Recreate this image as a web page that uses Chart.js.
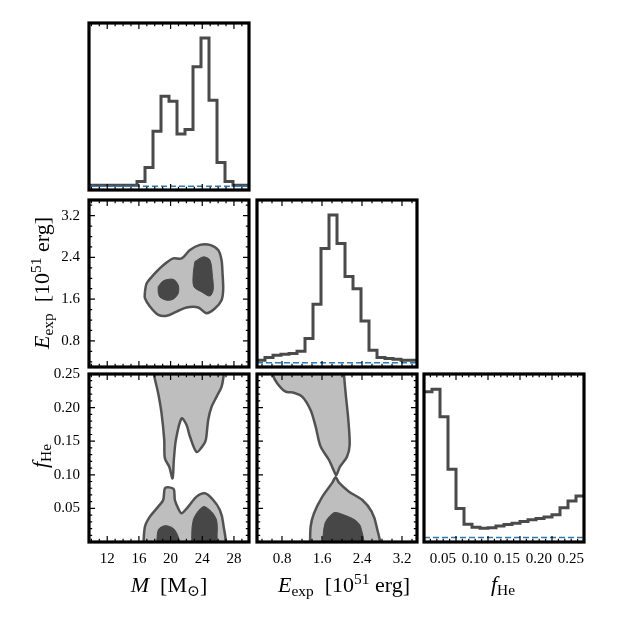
<!DOCTYPE html>
<html><head><meta charset="utf-8">
<script src="https://cdn.jsdelivr.net/npm/chart.js@4.4.1/dist/chart.umd.min.js"></script>
<style>
html,body{margin:0;padding:0;background:#fff;}
#wrap{position:relative;width:623px;height:623px;overflow:hidden;background:#fff;}
canvas{position:absolute;left:0;top:0;}
.t{position:absolute;font-family:'Liberation Serif','DejaVu Serif',serif;font-size:22px;color:#000;white-space:nowrap;transform:translate(-50%,-50%);line-height:1;}
.t sub{font-size:0.7em;vertical-align:-0.28em;line-height:0;}
.t sup{font-size:0.7em;vertical-align:0.5em;line-height:0;}
.t.r{transform:translate(-50%,-50%) rotate(-90deg);}
</style></head><body>
<div id="wrap">
<canvas id="c0" width="623" height="623"></canvas>
<canvas id="c1" width="623" height="623"></canvas>
<canvas id="c2" width="623" height="623"></canvas>
<canvas id="c3" width="623" height="623"></canvas>
<canvas id="c4" width="623" height="623"></canvas>
<canvas id="c5" width="623" height="623"></canvas>
<div class="t" style="left:169px;top:585px"><i>M</i>&nbsp; [M<sub>⊙</sub>]</div>
<div class="t" style="left:344px;top:585px"><i>E</i><sub>exp</sub>&nbsp; [10<sup>51</sup> erg]</div>
<div class="t" style="left:503px;top:584px"><i>f</i><sub>He</sub></div>
<div class="t r" style="left:42px;top:283px"><i>E</i><sub>exp</sub>&nbsp; [10<sup>51</sup> erg]</div>
<div class="t r" style="left:40px;top:456px"><i>f</i><sub>He</sub></div>
</div>
<script>
// ---- axis ranges and tick labels ----
const M_RANGE = [9.7, 29.9];
const E_RANGE = [0.3, 3.5];
const F_RANGE = [0, 0.25];
const mTicks = [12, 16, 20, 24, 28];
const eTicks = [0.8, 1.6, 2.4, 3.2];
const fTicks = [0.05, 0.10, 0.15, 0.20, 0.25];

// ---- 1D marginal histograms (20 bins each, arbitrary units) ----
const mHist = [14,14,14,14,14,14,25,67,175,279,264,167,180,367,452,267,82,25,14,14];
const eHist = [20,28,35,38,40,47,85,187,353,453,368,270,233,137,50,28,25,23,20,20];
const fHist = [440,447,367,213,98,52,43,40,42,47,51,55,60,65,69,73,80,100,120,135];
const mPrior = 11, ePrior = 13, fPrior = 13;
const mHistMax = 497, eHistMax = 498, fHistMax = 492;

// ---- 2D credible-region contours [x, y] ----
const meOuter = [[16.76,1.74],[16.97,1.90],[17.81,2.06],[19.07,2.25],[20.33,2.38],[21.39,2.38],[22.44,2.54],[23.70,2.64],[24.96,2.64],[26.01,2.54],[26.43,2.35],[26.56,2.09],[26.64,1.78],[26.43,1.58],[25.59,1.42],[24.54,1.33],[23.49,1.44],[22.02,1.44],[20.76,1.36],[19.50,1.28],[18.44,1.30],[17.39,1.46],[16.76,1.62]];
const meInnerA = [[18.44,1.84],[19.07,1.95],[20.33,1.98],[20.96,1.87],[20.96,1.71],[20.33,1.60],[19.50,1.58],[18.65,1.64],[18.44,1.74]];
const meInnerB = [[23.07,2.32],[24.11,2.41],[24.96,2.35],[25.29,2.03],[25.38,1.78],[24.96,1.66],[23.91,1.74],[22.94,1.84],[22.86,2.09]];

const mfUpper = [[17.85,0.27],[17.90,0.25],[18.44,0.221],[18.86,0.1915],[19.20,0.152],[19.28,0.1245],[19.83,0.112],[20.25,0.0947],[20.41,0.122],[20.67,0.152],[21.39,0.184],[22.02,0.174],[22.44,0.157],[23.28,0.134],[24.11,0.144],[24.45,0.152],[24.75,0.1815],[25.17,0.201],[25.80,0.216],[26.43,0.231],[26.72,0.25],[26.8,0.27]];
const mfLower = [[16.55,-0.01],[16.76,0.0228],[17.39,0.0377],[18.44,0.0526],[19.07,0.0625],[19.28,0.080],[19.83,0.0813],[20.41,0.0784],[20.54,0.0625],[20.96,0.0501],[21.39,0.0427],[22.23,0.0526],[23.28,0.0675],[24.33,0.0724],[25.38,0.0625],[26.22,0.0476],[26.64,0.0278],[26.64,-0.01]];
const mfInnerA = [[18.24,-0.01],[18.44,0.0179],[19.28,0.0243],[20.33,0.0203],[20.96,0.0079],[21.18,-0.01]];
const mfInnerB = [[22.65,-0.01],[22.86,0.0327],[24.11,0.0526],[25.17,0.0451],[25.80,0.0327],[25.88,0.0129],[25.59,-0.01]];

const efUpper = [[0.55,0.27],[0.607,0.25],[0.707,0.236],[0.873,0.2237],[1.007,0.2227],[1.207,0.216],[1.373,0.196],[1.473,0.1716],[1.573,0.1419],[1.74,0.122],[1.86,0.1022],[1.887,0.0997],[1.96,0.112],[2.10,0.127],[2.153,0.1443],[2.127,0.1815],[2.073,0.221],[2.04,0.25],[2.03,0.27]];
const efLower = [[1.36,-0.01],[1.373,0.0228],[1.44,0.0427],[1.607,0.0675],[1.807,0.0883],[1.873,0.0962],[1.94,0.0883],[2.14,0.0749],[2.407,0.0625],[2.593,0.0451],[2.693,0.0228],[2.727,-0.01]];
const efInner = [[1.607,-0.01],[1.66,0.0278],[1.84,0.0436],[2.04,0.0402],[2.26,0.0327],[2.373,0.0228],[2.407,-0.01]];

// ---- layout / style ----
const FONT = "'Liberation Serif','DejaVu Serif',serif";
const COL_L = [89, 257, 424], COL_W = 160;
const ROW_T = [23, 200, 374], ROW_H = [167, 167, 168];
const AX_W = 40, AX_H = 30;
const LIGHT = '#bebebe', DARK = '#474747', EDGE = '#525252', HISTC = '#4a4a4a', BLUE = '#2b7bba';

const AX = {
  M: {range: M_RANGE, ticks: mTicks, minor: 1, fmt: v => String(Math.round(v))},
  E: {range: E_RANGE, ticks: eTicks, minor: 0.2, fmt: v => v.toFixed(1)},
  F: {range: F_RANGE, ticks: fTicks, minor: 0.01, fmt: v => v.toFixed(2)}
};

function binEdges(range, n) {
  const out = [];
  for (let i = 0; i <= n; i++) out.push(range[0] + i * (range[1] - range[0]) / n);
  return out;
}
function histData(range, vals) {
  const e = binEdges(range, vals.length);
  return e.map((x, i) => ({x: x, y: vals[Math.min(i, vals.length - 1)]}));
}
function poly(pts) {
  const d = pts.map(p => ({x: p[0], y: p[1]}));
  d.push({x: pts[0][0], y: pts[0][1]});
  return d;
}
function minorVals(range, step, majors) {
  const out = [];
  const start = Math.ceil(range[0] / step - 1e-9);
  for (let k = start; k * step <= range[1] + 1e-9; k++) {
    const v = k * step;
    if (!majors.some(m => Math.abs(m - v) < step * 0.01)) out.push(v);
  }
  return out;
}

const framePlugin = {
  id: 'frame',
  afterDatasetsDraw(chart, args, o) {
    const {ctx, chartArea: a} = chart;
    const xs = chart.scales.x, ys = chart.scales.y;
    ctx.save();
    ctx.strokeStyle = '#000';
    ctx.lineWidth = 1.2;
    const markX = (vals, len) => vals.forEach(v => {
      const p = xs.getPixelForValue(v);
      if (p < a.left + 1 || p > a.right - 1) return;
      ctx.beginPath();
      ctx.moveTo(p, a.bottom); ctx.lineTo(p, a.bottom - len);
      ctx.moveTo(p, a.top); ctx.lineTo(p, a.top + len);
      ctx.stroke();
    });
    const markY = (vals, len) => vals.forEach(v => {
      const p = ys.getPixelForValue(v);
      if (p < a.top + 1 || p > a.bottom - 1) return;
      ctx.beginPath();
      ctx.moveTo(a.left, p); ctx.lineTo(a.left + len, p);
      ctx.moveTo(a.right, p); ctx.lineTo(a.right - len, p);
      ctx.stroke();
    });
    const ax = AX[o.x];
    markX(ax.ticks, 6);
    markX(minorVals(ax.range, ax.minor, ax.ticks), 3.2);
    if (o.y) {
      const ay = AX[o.y];
      markY(ay.ticks, 6);
      markY(minorVals(ay.range, ay.minor, ay.ticks), 3.2);
    }
    ctx.lineWidth = 3.2;
    ctx.strokeRect(a.left, a.top, a.right - a.left, a.bottom - a.top);
    ctx.restore();
  }
};

function scaleCfg(axKey, show, isX, align) {
  const ax = AX[axKey];
  return {
    type: 'linear', min: ax.range[0], max: ax.range[1],
    grid: {display: false, drawTicks: false}, border: {display: false},
    ticks: {display: show, padding: isX ? 8 : 9, color: '#000', autoSkip: false,
            maxRotation: 0, minRotation: 0, align: align || 'center',
            font: {family: FONT, size: 15}, callback: v => ax.fmt(v)},
    afterBuildTicks: s => { s.ticks = ax.ticks.map(v => ({value: v})); },
    afterFit: s => { if (isX) s.height = AX_H; else s.width = AX_W; }
  };
}
function histYCfg(maxv) {
  return {
    type: 'linear', min: 0, max: maxv,
    grid: {display: false, drawTicks: false}, border: {display: false},
    ticks: {display: false},
    afterFit: s => { s.width = AX_W; }
  };
}

function make(id, col, row, xKey, yScale, datasets, showX, showY, yKey, xAlign) {
  const L = COL_L[col], T = ROW_T[row], H = ROW_H[row];
  new Chart(document.getElementById(id), {
    type: 'line',
    data: {datasets: datasets},
    options: {
      responsive: false, animation: false, events: [],
      layout: {padding: {left: L - AX_W, top: T, right: 623 - (L + COL_W), bottom: 623 - (T + H) - AX_H}},
      elements: {point: {radius: 0}},
      plugins: {legend: {display: false}, tooltip: {enabled: false}, frame: {x: xKey, y: yKey}},
      scales: {
        x: scaleCfg(xKey, showX, true, xAlign),
        y: yScale || scaleCfg(yKey, showY, false)
      }
    },
    plugins: [framePlugin]
  });
}

function histSets(range, vals, prior) {
  return [
    {data: histData(range, vals), stepped: 'before', borderColor: HISTC, borderWidth: 3, fill: false, order: 1, clip: 2},
    {data: [{x: range[0], y: prior}, {x: range[1], y: prior}], borderColor: BLUE, borderWidth: 1.5, borderDash: [6, 3], fill: false, order: 0, clip: 2}
  ];
}
function outerSet(pts) {
  return {data: poly(pts), borderColor: EDGE, borderWidth: 2.5, backgroundColor: LIGHT, fill: 'shape', tension: 0.3, order: 2, clip: 0};
}
function innerSet(pts) {
  return {data: poly(pts), borderColor: DARK, borderWidth: 1, backgroundColor: DARK, fill: 'shape', tension: 0.3, order: 1, clip: 0};
}

// row 0: M histogram
make('c0', 0, 0, 'M', histYCfg(mHistMax), histSets(M_RANGE, mHist, mPrior), false, false, null);
// row 1: M-E contour, E histogram
make('c1', 0, 1, 'M', null, [outerSet(meOuter), innerSet(meInnerA), innerSet(meInnerB)], false, true, 'E');
make('c2', 1, 1, 'E', histYCfg(eHistMax), histSets(E_RANGE, eHist, ePrior), false, false, null);
// row 2: M-f, E-f contours, f histogram
make('c3', 0, 2, 'M', null, [outerSet(mfUpper), outerSet(mfLower), innerSet(mfInnerA), innerSet(mfInnerB)], true, true, 'F');
make('c4', 1, 2, 'E', null, [outerSet(efUpper), outerSet(efLower), innerSet(efInner)], true, false, 'F');
make('c5', 2, 2, 'F', histYCfg(fHistMax), histSets(F_RANGE, fHist, fPrior), true, false, null, 'end');
</script>
</body></html>
